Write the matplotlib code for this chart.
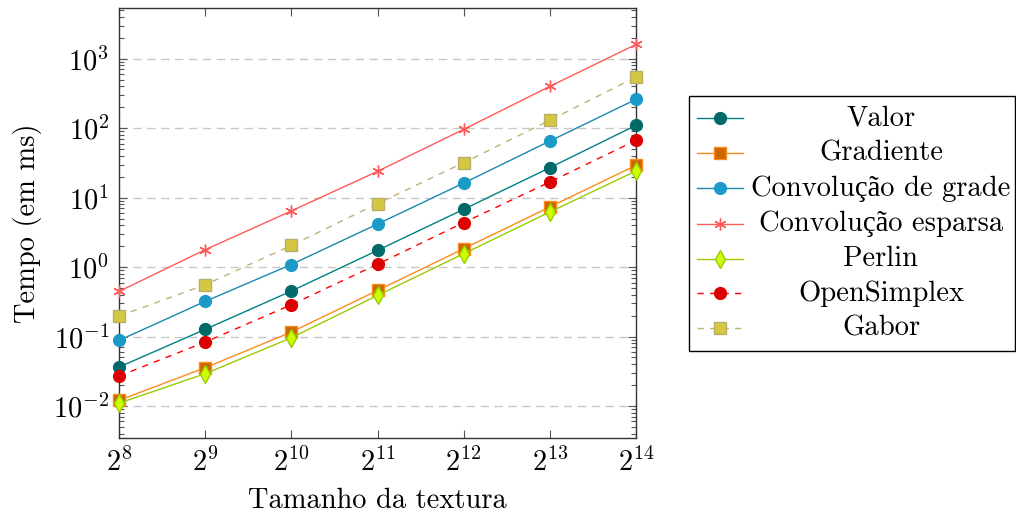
import math
import matplotlib
matplotlib.use("Agg")
import matplotlib.pyplot as plt
from matplotlib.lines import Line2D
from matplotlib.patches import Rectangle
from matplotlib.ticker import LogLocator, FixedLocator, FuncFormatter, NullLocator

plt.rcParams['font.family'] = ['cmr10', 'Liberation Serif']
plt.rcParams['mathtext.fontset'] = 'cm'
plt.rcParams['axes.formatter.use_mathtext'] = True

exponents = [8, 9, 10, 11, 12, 13, 14]
sizes = [2 ** e for e in exponents]

valor = [0.0364, 0.127, 0.452, 1.74, 6.79, 27.0, 110]
gradiente = [0.0121, 0.0356, 0.116, 0.461, 1.84, 7.34, 29.2]
conv_grade = [0.088, 0.321, 1.09, 4.17, 16.2, 65.3, 260]
conv_esparsa = [0.447, 1.78, 6.43, 23.9, 96.2, 400, 1607]
perlin = [0.0110, 0.0292, 0.0962, 0.391, 1.56, 6.22, 24.2]
opensimplex = [0.0270, 0.0833, 0.287, 1.10, 4.37, 16.8, 66.8]
gabor = [0.197, 0.557, 2.05, 8.2, 31.9, 130, 545]

labels = ["Valor", "Gradiente", "Convolução de grade", "Convolução esparsa",
          "Perlin", "OpenSimplex", "Gabor"]

W, H = 1016, 516
fig = plt.figure(figsize=(W / 100, H / 100), dpi=100)
ax = fig.add_axes([119 / W, 78 / H, 517 / W, 430 / H])

ax.set_xscale('log', base=2)
ax.set_yscale('log')

for y in [1e-2, 1e-1, 1e0, 1e1, 1e2, 1e3]:
    ax.axhline(y, color='#c8c8c8', lw=1.0, ls=(0, (6, 4)), zorder=0)

ms = 8.5
dash = (0, (4.5, 4.5))
styles = [
    dict(color='#008080', ls='-', marker='o', mfc='#006a6a', mec='#006a6a', ms=ms),
    dict(color='#ff8a1c', ls='-', marker='s', mfc='#cc6600', mec='#ff8a1c', ms=ms - 0.5),
    dict(color='#1a88ad', ls='-', marker='o', mfc='#1b9ac7', mec='#1b9ac7', ms=ms),
    dict(color='#ff5a5a', ls='-', marker=(6, 2, 0), mfc='#ff5a5a', mec='#ff5a5a', ms=ms, mew=1.0),
    dict(color='#99cc00', ls='-', marker='d', mfc='#ccff00', mec='#99cc00', ms=ms + 0.5),
    dict(color='#ff0000', ls=dash, marker='o', mfc='#dd0000', mec='#dd0000', ms=ms),
    dict(color='#bcb27a', ls=dash, marker='s', mfc='#d4c840', mec='#b8ae6a', ms=ms - 0.5),
]
data = [valor, gradiente, conv_grade, conv_esparsa, perlin, opensimplex, gabor]

for vals, st in zip(data, styles):
    ax.plot(sizes, vals, lw=1.0, clip_on=False, zorder=3, **st)

ax.set_xlim(2 ** 8, 2 ** 14)
ax.set_ylim(10 ** -2.46, 10 ** 3.73)

ax.xaxis.set_major_locator(FixedLocator(sizes))
ax.xaxis.set_minor_locator(NullLocator())
ax.xaxis.set_major_formatter(FuncFormatter(lambda v, p: r'$2^{%d}$' % round(math.log2(v))))
ax.yaxis.set_major_locator(LogLocator(base=10, numticks=20))
ax.yaxis.set_minor_locator(LogLocator(base=10, subs=range(2, 10), numticks=50))
ax.yaxis.set_major_formatter(FuncFormatter(lambda v, p: r'$10^{%d}$' % round(math.log10(v))))
ax.xaxis.get_offset_text().set_visible(False)
ax.yaxis.get_offset_text().set_visible(False)

ax.tick_params(which='both', direction='in', top=True, right=True, color='#555555')
ax.tick_params(which='major', length=6, width=0.8, labelsize=20.5, pad=7)
ax.tick_params(which='minor', length=3.5, width=0.8)
for s in ax.spines.values():
    s.set_color('#333333')
    s.set_linewidth(1.0)

ax.set_xlabel('Tamanho da textura', fontsize=20.5, labelpad=8)
ax.set_ylabel('Tempo (em ms)', fontsize=20.5, labelpad=8)

# Legend (pgfplots style: centered text)
box = Rectangle((689 / W, 1 - 351 / H), (1015 - 689) / W, (351 - 96) / H,
                transform=fig.transFigure, fill=True, facecolor='white',
                edgecolor='black', lw=1.0, zorder=5)
fig.add_artist(box)
row_y = [118.3, 152.9, 188.1, 223.5, 258.6, 293.3, 328.3]
for lab, st, yy in zip(labels, styles, row_y):
    yf = 1 - yy / H
    line_st = {k: v for k, v in st.items() if k in ('color', 'ls')}
    fig.add_artist(Line2D([697 / W, 743 / W], [yf, yf], transform=fig.transFigure,
                          lw=1.0, zorder=6, **line_st))
    mk_st = {k: v for k, v in st.items() if k not in ('ls',)}
    fig.add_artist(Line2D([720 / W], [yf], transform=fig.transFigure, ls='none',
                          zorder=7, **mk_st))
    fig.text(881 / W, 1 - (yy + 7.4) / H, lab, ha='center', va='baseline',
             fontsize=20.6, zorder=7)

fig.savefig('out.png', dpi=100)
